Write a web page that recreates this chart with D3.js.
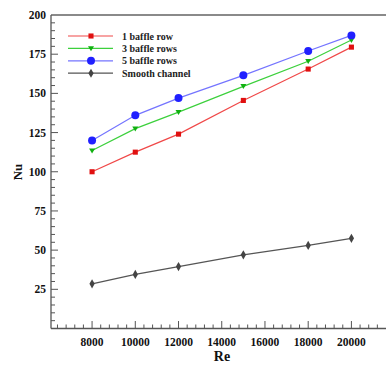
<!DOCTYPE html>
<html>
<head>
<meta charset="utf-8">
<script src="https://cdn.jsdelivr.net/npm/d3@7"></script>
<style>
  body { margin: 0; background: #fff; }
  text { font-family: "Times New Roman", Times, "Liberation Serif", serif; font-weight: 700; }
</style>
</head>
<body>
<script>
(function() {

    var reynolds = [8000, 10000, 12000, 15000, 18000, 20000];
    var oneRow = [100, 112.5, 124, 145.5, 165.5, 179.5];
    var threeRows = [113.5, 127.5, 138, 154.5, 170.5, 184];
    var fiveRows = [120, 136, 147, 161.5, 177, 187];
    var smooth = [28.5, 34.5, 39.5, 47, 53, 57.5];

    var seriesNames = ["1 baffle row", "3 baffle rows", "5 baffle rows", "Smooth channel"];
    var xTicks = [8000, 10000, 12000, 14000, 16000, 18000, 20000];
    var yTicks = [25, 50, 75, 100, 125, 150, 175, 200];

    var width = 386, height = 365;

    var svg = d3.select("body").append("svg")
        .attr("width", width)
        .attr("height", height);

    var x = d3.scaleLinear().domain([6100, 21600]).range([51, 386]);
    var y = d3.scaleLinear().domain([0, 200]).range([328.5, 15]);

    // frame: left, bottom and top lines
    svg.append("line").attr("x1", 51).attr("x2", 386).attr("y1", 15).attr("y2", 15)
        .attr("stroke", "#8a8a8a").attr("stroke-width", 2);
    svg.append("line").attr("x1", 51).attr("x2", 51).attr("y1", 15).attr("y2", 328.5)
        .attr("stroke", "#555").attr("stroke-width", 1.3);
    svg.append("line").attr("x1", 51).attr("x2", 386).attr("y1", 328.5).attr("y2", 328.5)
        .attr("stroke", "#555").attr("stroke-width", 1.3);

    // x ticks (inward)
    var xMinor = d3.range(6400, 21600, 400);
    svg.selectAll(".xminor").data(xMinor).enter().append("line")
        .attr("x1", function(d) { return x(d); }).attr("x2", function(d) { return x(d); })
        .attr("y1", 328.5).attr("y2", function(d) { return d % 2000 === 0 ? 321 : 324.5; })
        .attr("stroke", "#555").attr("stroke-width", 1);
    svg.selectAll(".xlab").data(xTicks).enter().append("text")
        .attr("x", function(d) { return x(d); }).attr("y", 346)
        .attr("text-anchor", "middle").attr("font-size", 11.5).attr("fill", "#111")
        .text(function(d) { return d; });

    // y ticks (inward)
    var yMinor = d3.range(5, 200, 5);
    svg.selectAll(".yminor").data(yMinor).enter().append("line")
        .attr("x1", 51).attr("x2", function(d) { return d % 25 === 0 ? 58 : 55; })
        .attr("y1", function(d) { return y(d); }).attr("y2", function(d) { return y(d); })
        .attr("stroke", "#555").attr("stroke-width", 1);
    svg.selectAll(".ylab").data(yTicks).enter().append("text")
        .attr("x", 46).attr("y", function(d) { return y(d) + 4; })
        .attr("text-anchor", "end").attr("font-size", 11.5).attr("fill", "#111")
        .text(function(d) { return d; });

    // axis titles
    svg.append("text").attr("x", 222).attr("y", 361).attr("text-anchor", "middle")
        .attr("font-size", 14).attr("fill", "#111").text("Re");
    svg.append("text").attr("transform", "translate(22,172) rotate(-90)")
        .attr("text-anchor", "middle").attr("font-size", 13).attr("fill", "#111").text("Nu");

    var series = [
        { name: seriesNames[0], values: oneRow, line: "#f04848", mark: "#e01010", shape: d3.symbolSquare, size: 26 },
        { name: seriesNames[1], values: threeRows, line: "#3cd03c", mark: "#10b010", shape: "tri", size: 22 },
        { name: seriesNames[2], values: fiveRows, line: "#7474ff", mark: "#2020ff", shape: d3.symbolCircle, size: 50 },
        { name: seriesNames[3], values: smooth, line: "#555", mark: "#444", shape: d3.symbolDiamond, size: 24 }
    ];

    var line = d3.line()
        .x(function(d) { return x(d[0]); })
        .y(function(d) { return y(d[1]); });

    function markerPath(s) {
        if (s.shape === "tri") {
            return "M-3,-2.2L3,-2.2L0,2.8Z";
        }
        return d3.symbol().type(s.shape).size(s.size)();
    }

    series.forEach(function(s) {
        var pts = reynolds.map(function(r, i) { return [r, s.values[i]]; });
        svg.append("path").datum(pts)
            .attr("d", line).attr("fill", "none")
            .attr("stroke", s.line).attr("stroke-width", 1.2);
        svg.selectAll(null).data(pts).enter().append("path")
            .attr("transform", function(d) { return "translate(" + x(d[0]) + "," + y(d[1]) + ")"; })
            .attr("d", markerPath(s))
            .attr("fill", s.mark);
    });

    // legend
    var legend = svg.append("g");
    series.forEach(function(s, i) {
        var ly = 36 + i * 12.4;
        legend.append("line").attr("x1", 68).attr("x2", 113).attr("y1", ly).attr("y2", ly)
            .attr("stroke", s.line).attr("stroke-width", 1.2);
        legend.append("path").attr("transform", "translate(91," + ly + ")")
            .attr("d", markerPath(s)).attr("fill", s.mark);
        legend.append("text").attr("x", 122).attr("y", ly + 3.5)
            .attr("font-size", 10).attr("fill", "#222").text(s.name);
    });

})();
</script>
</body>
</html>
